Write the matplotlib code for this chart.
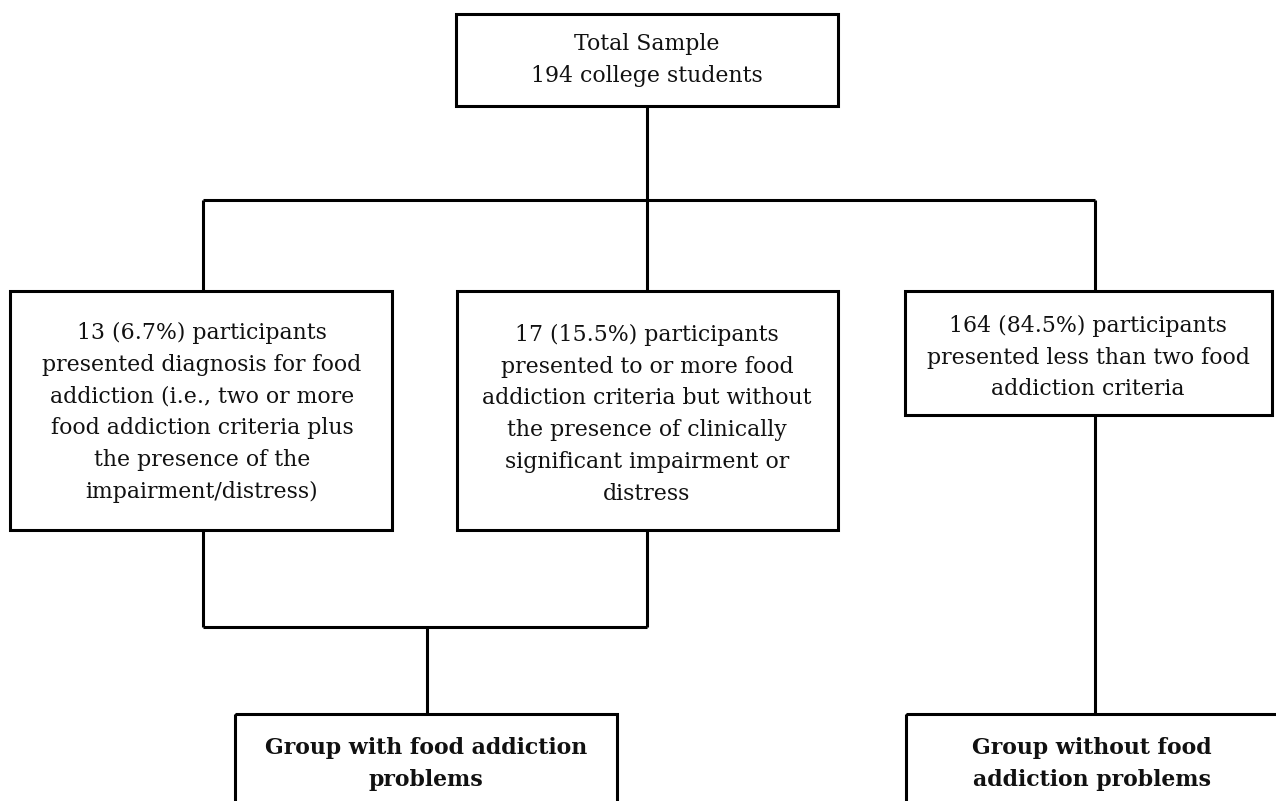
import matplotlib
matplotlib.use("Agg")
import matplotlib.pyplot as plt
from matplotlib.patches import Rectangle

# Text content of the flowchart
top_lines = ["Total Sample", "194 college students"]
left_lines = ["13 (6.7%) participants", "presented diagnosis for food",
              "addiction (i.e., two or more", "food addiction criteria plus",
              "the presence of the", "impairment/distress)"]
mid_lines = ["17 (15.5%) participants", "presented to or more food",
             "addiction criteria but without", "the presence of clinically",
             "significant impairment or", "distress"]
right_lines = ["164 (84.5%) participants", "presented less than two food",
               "addiction criteria"]
bl_lines = ["Group with food addiction", "problems"]
br_lines = ["Group without food", "addiction problems"]

W, H = 1276, 801
fig = plt.figure(figsize=(W / 100, H / 100), dpi=100)
ax = fig.add_axes([0, 0, 1, 1])
ax.set_xlim(0, W)
ax.set_ylim(H, 0)
ax.axis("off")

LW = 2.2
FONT = "DejaVu Serif"
FS = 15.8
LINE_H = 31.7

def box(x0, y0, x1, y1):
    ax.add_patch(Rectangle((x0, y0), x1 - x0, y1 - y0, fill=False,
                           edgecolor="black", linewidth=LW, clip_on=True))

def line(xs, ys):
    ax.plot(xs, ys, color="black", linewidth=LW, solid_capstyle="butt")

def lines_text(cx, y_first, lines, bold=False):
    for i, s in enumerate(lines):
        ax.text(cx, y_first + i * LINE_H, s, ha="center", va="center",
                fontsize=FS, family=FONT, color="#111111",
                fontweight="bold" if bold else "normal")

# boxes
box(456, 14, 838, 106)
box(10, 291, 392, 530)
box(457, 291, 838, 530)
box(905, 291, 1272, 415)
box(235, 714, 617, 830)
box(906, 714, 1280, 830)

# connectors
line([647, 647], [106, 200])
line([203, 1095], [200, 200])
line([203, 203], [200, 291])
line([647, 647], [200, 291])
line([1095, 1095], [200, 291])
line([203, 203], [530, 627])
line([647, 647], [530, 627])
line([203, 647], [627, 627])
line([427, 427], [627, 714])
line([1095, 1095], [415, 714])

# texts
lines_text(647, 44, top_lines)
lines_text(202, 333, left_lines)
lines_text(647, 335, mid_lines)
lines_text(1088, 326, right_lines)
lines_text(426, 748, bl_lines, bold=True)
lines_text(1092, 748, br_lines, bold=True)

fig.savefig("out.png", dpi=100)
